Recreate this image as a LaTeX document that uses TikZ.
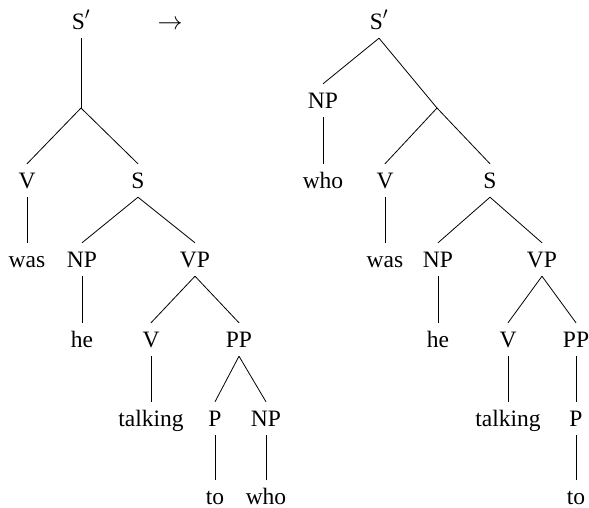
\documentclass[tikz,border=0pt]{standalone}
\usepackage{fontspec}
\setmainfont{Liberation Serif}
\begin{document}
\begin{tikzpicture}[x=1pt,y=-1pt,
  lbl/.style={anchor=base,inner xsep=0pt,inner ysep=8pt,text height=16pt,text depth=1pt,
    font=\fontsize{23.5}{28}\selectfont},
  leaf/.style={lbl,inner ysep=0pt,text height=24pt,text depth=0pt},
  edge/.style={draw=black,line width=0.8pt}]
\useasboundingbox (0,0) rectangle (589,507);

% ---- left tree: before movement ----
\node[lbl] (lS)   at (81,29)  {S$'$};
\coordinate (lB) at (81,108);
\node[lbl] (lV)   at (27,188) {V};
\node[lbl] (lSS)  at (138,188) {S};
\node[lbl] (lwas) at (27,267) {was};
\node[lbl] (lNP)  at (82,267) {NP};
\node[lbl] (lVP)  at (195,267) {VP};
\node[lbl] (lhe)  at (82,347) {he};
\node[lbl] (lV2)  at (151,347) {V};
\node[lbl] (lPP)  at (239,347) {PP};
\node[lbl] (ltalk) at (151,426) {talking};
\node[lbl] (lP)   at (215,426) {P};
\node[lbl] (lNP2) at (266,426) {NP};
\node[leaf] (lto)  at (215,504) {to};
\node[leaf] (lwho) at (266,504) {who};

\draw[edge] (lS.south) -- (lB);
\draw[edge] (lB) -- (lV.north);
\draw[edge] (lB) -- (lSS.north);
\draw[edge] (lV.south) -- (lwas.north);
\draw[edge] (lSS.south) -- (lNP.north);
\draw[edge] (lSS.south) -- (lVP.north);
\draw[edge] (lNP.south) -- (lhe.north);
\draw[edge] (lVP.south) -- (lV2.north);
\draw[edge] (lVP.south) -- (lPP.north);
\draw[edge] (lV2.south) -- (ltalk.north);
\draw[edge] (lPP.south) -- (lP.north);
\draw[edge] (lPP.south) -- (lNP2.north);
\draw[edge] (lP.south) -- (lto.north);
\draw[edge] (lNP2.south) -- (lwho.north);

% ---- arrow ----
\node[lbl] (arr) at (170,29) {$\rightarrow$};

% ---- right tree: after movement ----
\node[lbl] (rS)   at (379,29)  {S$'$};
\node[lbl] (rNP0) at (323,108) {NP};
\coordinate (rB) at (437,108);
\node[lbl] (rwho) at (323,188) {who};
\node[lbl] (rV)   at (385,188) {V};
\node[lbl] (rSS)  at (490,188) {S};
\node[lbl] (rwas) at (385,267) {was};
\node[lbl] (rNP)  at (438,267) {NP};
\node[lbl] (rVP)  at (542,267) {VP};
\node[lbl] (rhe)  at (438,347) {he};
\node[lbl] (rV2)  at (508,347) {V};
\node[lbl] (rPP)  at (576,347) {PP};
\node[lbl] (rtalk) at (508,426) {talking};
\node[lbl] (rP)   at (576,426) {P};
\node[leaf] (rto)  at (576,504) {to};

\draw[edge] (rS.south) -- (rNP0.north);
\draw[edge] (rS.south) -- (rB);
\draw[edge] (rNP0.south) -- (rwho.north);
\draw[edge] (rB) -- (rV.north);
\draw[edge] (rB) -- (rSS.north);
\draw[edge] (rV.south) -- (rwas.north);
\draw[edge] (rSS.south) -- (rNP.north);
\draw[edge] (rSS.south) -- (rVP.north);
\draw[edge] (rNP.south) -- (rhe.north);
\draw[edge] (rVP.south) -- (rV2.north);
\draw[edge] (rVP.south) -- (rPP.north);
\draw[edge] (rV2.south) -- (rtalk.north);
\draw[edge] (rPP.south) -- (rP.north);
\draw[edge] (rP.south) -- (rto.north);
\end{tikzpicture}
\end{document}
